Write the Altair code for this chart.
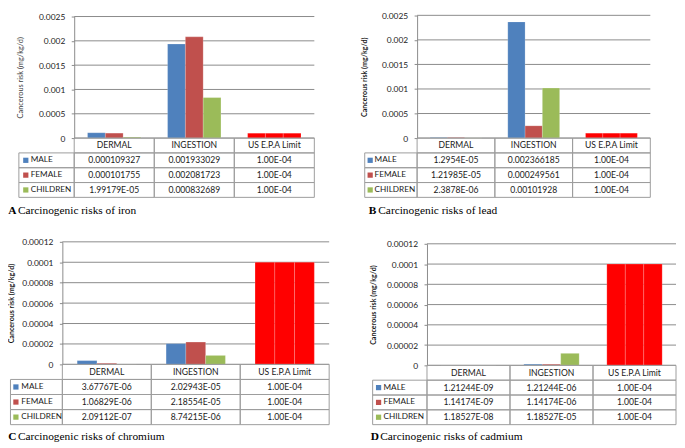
import altair as alt
import pandas as pd

categories = ["DERMAL", "INGESTION", "US E.P.A Limit"]
groups = ["MALE", "FEMALE", "CHILDREN"]

iron_male = ["0.000109327", "0.001933029", "1.00E-04"]
iron_female = ["0.000101755", "0.002081723", "1.00E-04"]
iron_children = ["1.99179E-05", "0.000832689", "1.00E-04"]

lead_male = ["1.2954E-05", "0.002366185", "1.00E-04"]
lead_female = ["1.21985E-05", "0.000249561", "1.00E-04"]
lead_children = ["2.3878E-06", "0.00101928", "1.00E-04"]

chromium_male = ["3.67767E-06", "2.02943E-05", "1.00E-04"]
chromium_female = ["1.06829E-06", "2.18554E-05", "1.00E-04"]
chromium_children = ["2.09112E-07", "8.74215E-06", "1.00E-04"]

cadmium_male = ["1.21244E-09", "1.21244E-06", "1.00E-04"]
cadmium_female = ["1.14174E-09", "1.14174E-06", "1.00E-04"]
cadmium_children = ["1.18527E-08", "1.18527E-05", "1.00E-04"]

ticks_fe_pb = [0, 0.0005, 0.001, 0.0015, 0.002, 0.0025]
ticks_cr_cd = [0, 0.00002, 0.00004, 0.00006, 0.00008, 0.0001, 0.00012]

y_title = "Cancerous risk (mg/kg/d)"

series_colors = ["#4F81BD", "#C0504D", "#9BBB59"]
limit_color = "#FF0000"
grid_color = "#8a8a8a"
table_color = "#9c9c9c"
text_color = "#1a1a1a"
SANS = "Lato"
SERIF = "Liberation Serif"

VIEW_W, VIEW_H = 677, 440

# layout of each panel, in pixels inside the view (page position minus the 8px margin)
LAYOUT = {
    "A": dict(left=67, right=310, top=6.0, zero=129, bottom=189, legend=11,
              title_x=13, cap_x=0.3, cap_y=203, bold=False, sq=7, tx=12),
    "B": dict(left=414, right=650, top=4.8, zero=129, bottom=189, legend=361,
              title_x=361, cap_x=365, cap_y=203, bold=True, sq=5.5, tx=10),
    "C": dict(left=55, right=325, top=234, zero=358, bottom=419, legend=2.5,
              title_x=4, cap_x=0.3, cap_y=432, bold=True, sq=5.5, tx=11),
    "D": dict(left=424, right=676, top=236, zero=359, bottom=419, legend=369,
              title_x=370, cap_x=367, cap_y=432, bold=True, sq=6, tx=11),
}


def panel_layers(letter, caption, series, ticks):
    L = LAYOUT[letter]

    bar_rows, cell_rows = [], [{"row": "HEAD", "cat": c, "txt": c} for c in categories]
    for g, vals in zip(groups, series):
        for c, v in zip(categories, vals):
            bar_rows.append({"cat": c, "grp": g, "val": float(v),
                             "key": "LIMIT" if c == categories[-1] else g})
            cell_rows.append({"row": g, "cat": c, "txt": v})
    bar_df = pd.DataFrame(bar_rows)
    cell_df = pd.DataFrame(cell_rows)
    grid_df = pd.DataFrame({"v": ticks, "g0": [0] * len(ticks), "g1": [1] * len(ticks)})
    leg_df = pd.DataFrame({"row": groups, "x0": [0, 0, 0], "x1": [1, 1, 1]})
    cap_df = pd.DataFrame({"row": ["CAP"], "x0": [0], "letter": [letter], "text": [caption]})

    y_scale = alt.Scale(domain=[0, ticks[-1]], range=[L["zero"], L["top"]], nice=False, zero=False)
    col_scale = alt.Scale(domain=categories, range=[L["left"], L["right"]], paddingInner=0, paddingOuter=0)
    grid_x = alt.Scale(domain=[0, 1], range=[L["left"], L["right"]], nice=False, zero=False)
    row_scale = alt.Scale(domain=["HEAD"] + groups, range=[L["zero"], L["bottom"]],
                          paddingInner=0, paddingOuter=0)
    leg_scale = alt.Scale(domain=[0, 1], range=[L["legend"], L["left"]], nice=False, zero=False)
    cap_x = alt.Scale(domain=[0, 1], range=[L["cap_x"], L["cap_x"] + 100], nice=False, zero=False)
    cap_y = alt.Scale(domain=["CAP"], range=[L["cap_y"] - 10, L["cap_y"] + 10],
                      paddingInner=0, paddingOuter=0)

    axis = alt.Axis(
        orient="left", offset=-L["left"], values=ticks, format="~g", grid=False,
        domain=True, domainColor=grid_color, domainWidth=1,
        ticks=True, tickColor=grid_color, tickSize=3, labelPadding=6.5,
        labelFont=SANS, labelFontSize=8.5, labelColor=text_color, labelOverlap=False,
        title=y_title, titleFont=SANS, titleFontSize=7.2 if L["bold"] else 7.5,
        titleFontWeight="bold" if L["bold"] else "normal",
        titleColor=text_color if L["bold"] else "#404040",
        titleX=L["title_x"] - L["left"], titleAngle=270, titleBaseline="middle", titleAlign="center",
    )

    grid = alt.Chart(grid_df).mark_rule(color=grid_color, strokeWidth=1).encode(
        x=alt.X("g0:Q", scale=grid_x, axis=None),
        x2="g1:Q",
        y=alt.Y("v:Q", scale=y_scale, axis=axis),
    )

    bars = alt.Chart(bar_df).mark_bar(stroke="#ffffff", strokeOpacity=0.3, strokeWidth=0.6).encode(
        x=alt.X("cat:N", scale=col_scale, axis=None),
        xOffset=alt.XOffset("grp:N", scale=alt.Scale(domain=groups, paddingInner=0, paddingOuter=0.75)),
        y=alt.Y("val:Q", scale=y_scale, axis=None),
        color=alt.Color("key:N", scale=alt.Scale(domain=groups + ["LIMIT"],
                                                 range=series_colors + [limit_color]), legend=None),
    )

    cells = alt.Chart(cell_df).mark_rect(fillOpacity=0, stroke=table_color, strokeWidth=1).encode(
        x=alt.X("cat:N", scale=col_scale, axis=None),
        y=alt.Y("row:N", scale=row_scale, axis=None),
    )
    cell_text = alt.Chart(cell_df).mark_text(font=SANS, fontSize=8.7, color=text_color).encode(
        x=alt.X("cat:N", scale=col_scale, axis=None),
        y=alt.Y("row:N", scale=row_scale, axis=None),
        text="txt:N",
    )

    leg_cells = alt.Chart(leg_df).mark_rect(fillOpacity=0, stroke=table_color, strokeWidth=1).encode(
        x=alt.X("x0:Q", scale=leg_scale, axis=None),
        x2="x1:Q",
        y=alt.Y("row:N", scale=row_scale, axis=None),
    )
    leg_sq = alt.Chart(leg_df).mark_square(size=28, opacity=1, xOffset=L["sq"]).encode(
        x=alt.X("x0:Q", scale=leg_scale, axis=None),
        y=alt.Y("row:N", scale=row_scale, axis=None),
        color=alt.Color("row:N", scale=alt.Scale(domain=groups, range=series_colors), legend=None),
    )
    leg_txt = alt.Chart(leg_df).mark_text(align="left", dx=L["tx"], font=SANS, fontSize=8.3,
                                          color=text_color).encode(
        x=alt.X("x0:Q", scale=leg_scale, axis=None),
        y=alt.Y("row:N", scale=row_scale, axis=None),
        text="row:N",
    )

    cap_letter = alt.Chart(cap_df).mark_text(align="left", font=SERIF, fontSize=11.5,
                                             fontWeight="bold", color="black").encode(
        x=alt.X("x0:Q", scale=cap_x, axis=None),
        y=alt.Y("row:N", scale=cap_y, axis=None),
        text="letter:N",
    )
    cap_text = alt.Chart(cap_df).mark_text(align="left", dx=9.7, font=SERIF, fontSize=11.5,
                                           color="black").encode(
        x=alt.X("x0:Q", scale=cap_x, axis=None),
        y=alt.Y("row:N", scale=cap_y, axis=None),
        text="text:N",
    )

    return [grid, bars, cells, cell_text, leg_cells, leg_sq, leg_txt, cap_letter, cap_text]


layers = (
    panel_layers("A", "Carcinogenic risks of iron", [iron_male, iron_female, iron_children], ticks_fe_pb)
    + panel_layers("B", "Carcinogenic risks of lead", [lead_male, lead_female, lead_children], ticks_fe_pb)
    + panel_layers("C", "Carcinogenic risks of chromium",
                   [chromium_male, chromium_female, chromium_children], ticks_cr_cd)
    + panel_layers("D", "Carcinogenic risks of cadmium",
                   [cadmium_male, cadmium_female, cadmium_children], ticks_cr_cd)
)

chart = alt.layer(*layers).resolve_scale(
    x="independent", y="independent", color="independent", xOffset="independent"
).properties(
    width=VIEW_W, height=VIEW_H, padding=0, background="white",
    autosize=alt.AutoSizeParams(type="none"),
).configure_view(strokeWidth=0)

chart.save("out.html", embed_options={"renderer": "svg", "actions": False})
